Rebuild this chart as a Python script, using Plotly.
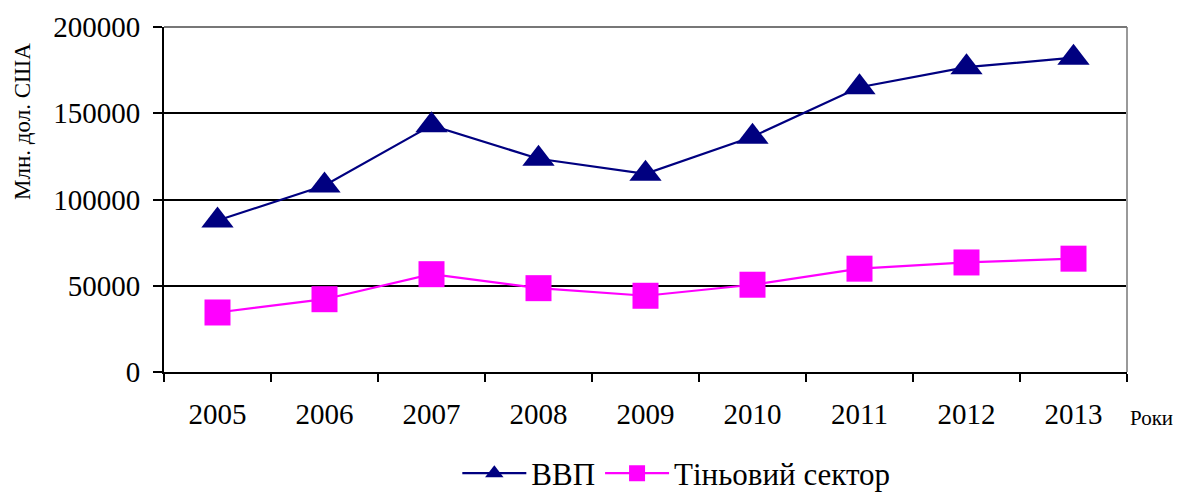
import plotly.graph_objects as go

years = ["2005", "2006", "2007", "2008", "2009", "2010", "2011", "2012", "2013"]
gdp = [87800, 108100, 143000, 123600, 114900, 136400, 165100, 176700, 182200]
shadow = [34500, 42200, 56700, 48600, 44200, 50600, 59900, 63500, 65700]
y_ticks = [0, 50000, 100000, 150000, 200000]

FONT = "Liberation Serif, Times New Roman, serif"

fig = go.Figure()
fig.add_trace(go.Scatter(
    x=years, y=gdp, name="ВВП", mode="lines+markers",
    line=dict(color="#000080", width=2.2),
    marker=dict(symbol="triangle-up", size=28, color="#000080"),
))
fig.add_trace(go.Scatter(
    x=years, y=shadow, name="Тіньовий сектор", mode="lines+markers",
    line=dict(color="#FF00FF", width=2.2),
    marker=dict(symbol="square", size=26, color="#FF00FF"),
))

fig.update_layout(
    width=1175, height=488,
    margin=dict(l=156, r=56, t=19, b=124),
    paper_bgcolor="white", plot_bgcolor="white",
    font=dict(family=FONT, size=29, color="black"),
    showlegend=True,
    legend=dict(orientation="h", x=0.532, xanchor="center",
                yref="container", y=0.046, yanchor="middle",
                font=dict(size=31, family=FONT), itemwidth=64, traceorder="normal"),
    xaxis=dict(type="category", tickson="boundaries", ticks="outside", ticklen=8,
               tickwidth=2, tickcolor="black", showline=True, linecolor="black", linewidth=2,
               showgrid=False, zeroline=False, ticklabelstandoff=15,
               range=[-0.5, 8.5], automargin=False),
    yaxis=dict(range=[0, 200000], tickvals=y_ticks, ticktext=[str(v) for v in y_ticks],
               ticks="outside", ticklen=9, tickwidth=2, tickcolor="black",
               showline=True, linecolor="black", linewidth=2,
               showgrid=True, gridcolor="black", gridwidth=2, zeroline=False,
               ticklabelstandoff=7, automargin=False),
    annotations=[
        dict(text="Млн. дол. США", xref="paper", yref="paper", x=-0.1475, y=0.7275,
             textangle=-90, showarrow=False, font=dict(size=23, family=FONT),
             xanchor="center", yanchor="middle"),
        dict(text="Роки", xref="paper", yref="paper", x=1.001, y=-0.133,
             showarrow=False, font=dict(size=21, family=FONT),
             xanchor="left", yanchor="middle"),
    ],
    shapes=[
        dict(type="line", xref="paper", yref="paper", x0=1, x1=1, y0=0, y1=1,
             line=dict(color="#999999", width=2)),
        dict(type="line", xref="paper", yref="paper", x0=0, x1=1, y0=1, y1=1,
             line=dict(color="#777777", width=2)),
    ],
)

fig.write_html("out.html")
